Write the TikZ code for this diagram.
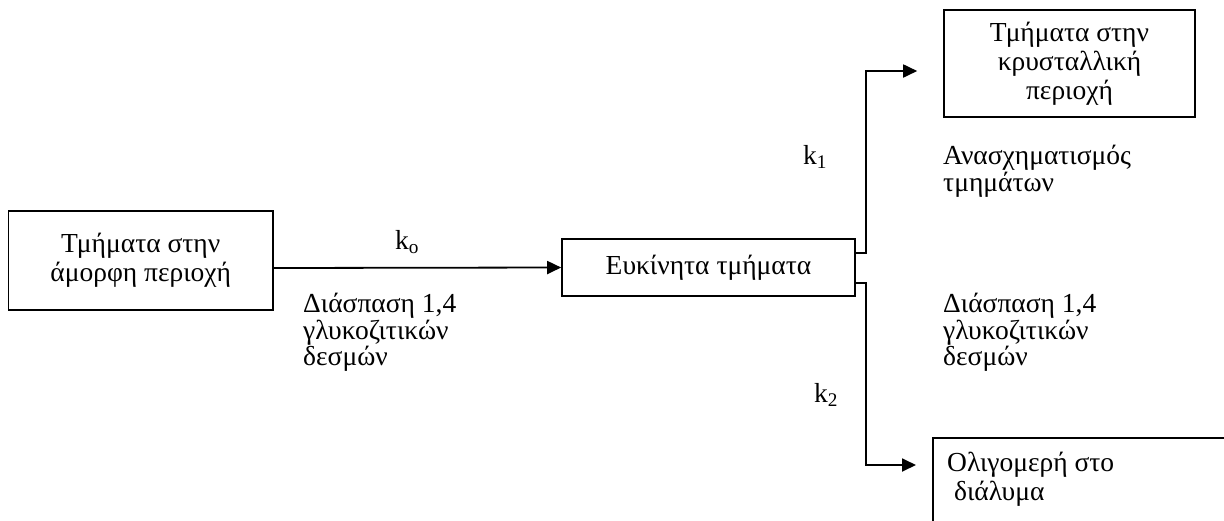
\documentclass[tikz,border=0pt]{standalone}
\usepackage{fontspec}
\setmainfont{Liberation Serif}
\usetikzlibrary{arrows.meta}
\begin{document}
\begin{tikzpicture}[x=1pt,y=-1pt,
  every node/.style={font=\fontsize{27.5}{29}\selectfont},
  box/.style={draw, line width=1.6pt, inner sep=0pt, align=center},
  lbl/.style={align=left, anchor=north west, inner sep=0pt, font=\fontsize{27.5}{26.5}\selectfont},
  conn/.style={line width=1.8pt, -{Triangle[length=14pt,width=13pt]}}]
\useasboundingbox[fill=white] (0,0) rectangle (1224,520);

% boxes
\node[box, minimum width=264.5pt, minimum height=99pt] (amorph) at (140.75,260.5) {Τμήματα στην\\άμορφη περιοχή};
\node[box, minimum width=293pt, minimum height=57pt] (mob) at (708.5,267.5) {Ευκίνητα τμήματα};
\node[box, minimum width=251pt, minimum height=107pt] (crys) at (1069.5,63.5) {Τμήματα στην\\κρυσταλλική\\περιοχή};
\node[draw, line width=1.6pt, anchor=north west, minimum width=320pt, minimum height=120pt] (olig) at (932,437) {};
\node[lbl, font=\fontsize{27.5}{28.5}\selectfont] (oligtxt) at (947,452) {Ολιγομερή στο\\\ διάλυμα};

% labels
\node (k0) at (407,242) {k\textsubscript{o}};
\node (k1) at (815,157) {k\textsubscript{1}};
\node (k2) at (826,395) {k\textsubscript{2}};
\node[lbl] (d1) at (303,293) {Διάσπαση 1,4\\γλυκοζιτικών\\δεσμών};
\node[lbl] (anas) at (943,145) {Ανασχηματισμός\\τμημάτων};
\node[lbl] (d2) at (943,293) {Διάσπαση 1,4\\γλυκοζιτικών\\δεσμών};

% connectors
\draw[conn] ([yshift=-7.5pt]amorph.east) -- (mob.west);
\coordinate (b1) at (866,71);
\coordinate (b2) at (866,465);
\draw[conn] ([yshift=14.5pt]mob.east) -| (b1) -- ([xshift=-26pt]crys.west |- b1);
\draw[conn] ([yshift=-15.5pt]mob.east) -| (b2) -- ([xshift=-16pt]olig.west |- b2);
\end{tikzpicture}
\end{document}
